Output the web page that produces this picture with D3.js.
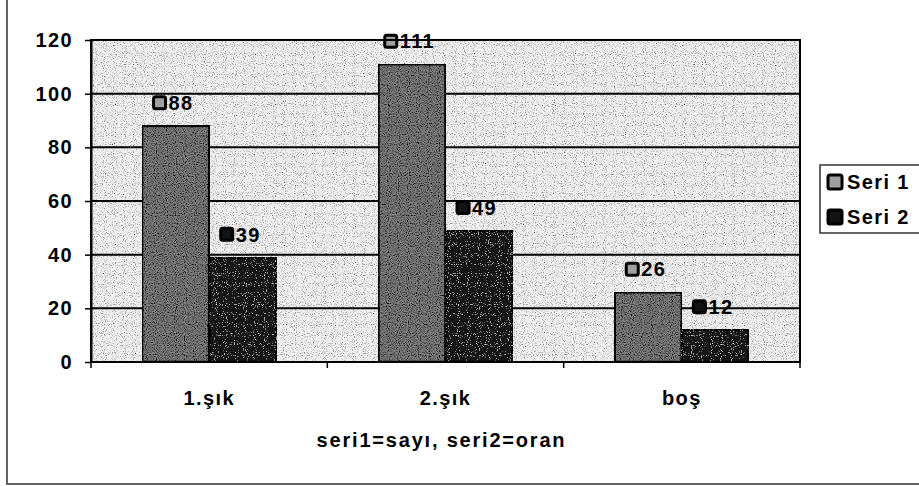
<!DOCTYPE html>
<html>
<head>
<meta charset="utf-8">
<script src="https://cdn.jsdelivr.net/npm/d3@7"></script>
<style>
  body { margin: 0; background: #fff; }
  text { font-family: "Liberation Sans", Arial, sans-serif; font-weight: bold; fill: #000; letter-spacing: 1.4px; }
</style>
</head>
<body>
<div id="chart"></div>
<script>
const categories = ['1.şık', '2.şık', 'boş'];
const seriesNames = ['Seri 1', 'Seri 2'];
const seri1 = [88, 111, 26];
const seri2 = [39, 49, 12];
const yTicks = [0, 20, 40, 60, 80, 100, 120];
const xTitle = 'seri1=sayı, seri2=oran';

const W = 919, H = 486;
const plot = { left: 91, top: 40, right: 800, bottom: 362 };
const colors = ['#858585', '#131313'];
const fontSize = 20;

const svg = d3.select('#chart').append('svg')
    .attr('width', W)
    .attr('height', H);

// speckle filters to imitate the scanned texture
const defs = svg.append('defs');
function speckle(id, freq, alphaMul, alphaAdd, rgb, seed) {
    const f = defs.append('filter').attr('id', id)
        .attr('x', 0).attr('y', 0).attr('width', 1).attr('height', 1);
    f.append('feTurbulence').attr('type', 'fractalNoise')
        .attr('baseFrequency', freq).attr('numOctaves', 1).attr('seed', seed).attr('result', 'noise');
    f.append('feColorMatrix').attr('in', 'noise').attr('type', 'matrix')
        .attr('values', `0 0 0 0 ${rgb}  0 0 0 0 ${rgb}  0 0 0 0 ${rgb}  0 0 0 ${alphaMul} ${alphaAdd}`)
        .attr('result', 'dots');
    f.append('feComposite').attr('in', 'dots').attr('in2', 'SourceGraphic').attr('operator', 'in').attr('result', 'dotsIn');
    f.append('feMerge').call(m => {
        m.append('feMergeNode').attr('in', 'SourceGraphic');
        m.append('feMergeNode').attr('in', 'dotsIn');
    });
}
speckle('bgGrain', 0.9, -3, 1.45, 0, 3);
speckle('darkGrain', 0.9, -3, 1.85, 0, 5);
speckle('lightGrain', 0.9, -4, 1.55, 1, 7);

// outer chart frame (left and bottom edges visible)
svg.append('path')
    .attr('d', `M7,0 V484 H${W}`)
    .attr('fill', 'none')
    .attr('stroke', '#333')
    .attr('stroke-width', 1.5);

const x = d3.scaleBand()
    .domain(categories)
    .range([plot.left, plot.right])
    .padding(0);

const xInner = d3.scaleBand()
    .domain(seriesNames)
    .range([0, x.bandwidth()])
    .paddingInner(0)
    .paddingOuter(0.76);

const y = d3.scaleLinear()
    .domain([0, 120])
    .range([plot.bottom, plot.top]);

// plot background
svg.append('rect')
    .attr('x', plot.left).attr('y', plot.top)
    .attr('width', plot.right - plot.left)
    .attr('height', plot.bottom - plot.top)
    .attr('fill', '#f0f0f0')
    .attr('filter', 'url(#bgGrain)');

// gridlines
svg.append('g')
    .selectAll('line')
    .data(yTicks.filter(d => d > 0))
    .join('line')
    .attr('x1', plot.left).attr('x2', plot.right)
    .attr('y1', d => y(d)).attr('y2', d => y(d))
    .attr('stroke', '#000')
    .attr('stroke-width', 2);

// bars
const rows = categories.map((c, i) => ({ cat: c, values: [seri1[i], seri2[i]] }));
const groups = svg.append('g')
    .selectAll('g')
    .data(rows)
    .join('g')
    .attr('transform', d => `translate(${x(d.cat)},0)`);

groups.selectAll('rect')
    .data(d => d.values.map((v, k) => ({ name: seriesNames[k], k: k, value: v })))
    .join('rect')
    .attr('x', d => xInner(d.name))
    .attr('y', d => y(d.value))
    .attr('width', xInner.bandwidth())
    .attr('height', d => y(0) - y(d.value))
    .attr('fill', d => colors[d.k])
    .attr('stroke', '#000')
    .attr('stroke-width', 2.5)
    .attr('filter', d => d.k === 0 ? 'url(#darkGrain)' : 'url(#lightGrain)');

// data labels: key square + value
const labels = groups.selectAll('g.lbl')
    .data(d => d.values.map((v, k) => ({ name: seriesNames[k], k: k, value: v })))
    .join('g')
    .attr('class', 'lbl')
    .attr('transform', d => `translate(${xInner(d.name) + xInner.bandwidth() / 2},${y(d.value) - 23})`);

labels.each(function (d) {
    const g = d3.select(this);
    const t = g.append('text')
        .attr('font-size', fontSize)
        .attr('dy', '0.36em')
        .text(d.value);
    const tw = t.node().getComputedTextLength();
    const key = 12, gap = 3;
    const total = key + gap + tw;
    const x0 = -total / 2 - 2;
    g.insert('rect', 'text')
        .attr('x', x0).attr('y', -key / 2)
        .attr('width', key).attr('height', key)
        .attr('rx', 2)
        .attr('fill', d.k === 0 ? '#a0a0a0' : colors[1])
        .attr('stroke', '#000')
        .attr('stroke-width', 3);
    t.attr('x', x0 + key + gap);
});

// plot border
svg.append('rect')
    .attr('x', plot.left).attr('y', plot.top)
    .attr('width', plot.right - plot.left)
    .attr('height', plot.bottom - plot.top)
    .attr('fill', 'none')
    .attr('stroke', '#000')
    .attr('stroke-width', 2);

// y axis
const yAxis = svg.append('g')
    .attr('transform', `translate(${plot.left},0)`)
    .call(d3.axisLeft(y).tickValues(yTicks).tickSize(6).tickSizeOuter(0).tickPadding(12));
yAxis.select('.domain').attr('stroke', '#000').attr('stroke-width', 2);
yAxis.selectAll('.tick line').attr('stroke', '#000').attr('stroke-width', 1.5);
yAxis.selectAll('.tick text')
    .attr('font-size', fontSize)
    .attr('font-family', '"Liberation Sans", Arial, sans-serif')
    .attr('font-weight', 'bold')
    .attr('fill', '#000');

// x axis: ticks at category boundaries, labels centred
const xAxis = svg.append('g').attr('transform', `translate(0,${plot.bottom})`);
xAxis.append('line')
    .attr('x1', plot.left).attr('x2', plot.right)
    .attr('stroke', '#000').attr('stroke-width', 2);
xAxis.selectAll('line.tk')
    .data(categories.map(c => x(c)).concat([plot.right]))
    .join('line')
    .attr('class', 'tk')
    .attr('x1', d => d).attr('x2', d => d)
    .attr('y1', 0).attr('y2', 6)
    .attr('stroke', '#000').attr('stroke-width', 1.5);
xAxis.selectAll('text')
    .data(categories)
    .join('text')
    .attr('x', d => x(d) + x.bandwidth() / 2)
    .attr('y', 36)
    .attr('dy', '0.36em')
    .attr('text-anchor', 'middle')
    .attr('font-size', fontSize)
    .text(d => d);

// axis title
svg.append('text')
    .attr('x', (plot.left + plot.right) / 2 - 4)
    .attr('y', 440)
    .attr('dy', '0.36em')
    .attr('text-anchor', 'middle')
    .attr('font-size', 20)
    .style('letter-spacing', '1.8px')
    .text(xTitle);

// legend
const legend = svg.append('g').attr('transform', 'translate(820,165)');
legend.append('rect')
    .attr('x', 0).attr('y', 0)
    .attr('width', 110).attr('height', 68)
    .attr('fill', '#fff')
    .attr('stroke', '#333')
    .attr('stroke-width', 1.5);
const items = legend.selectAll('g.item')
    .data(seriesNames)
    .join('g')
    .attr('class', 'item')
    .attr('transform', (d, i) => `translate(8,${17 + i * 35})`);
items.append('rect')
    .attr('x', 0).attr('y', -7)
    .attr('width', 14).attr('height', 14)
    .attr('rx', 2)
    .attr('fill', (d, i) => i === 0 ? '#a0a0a0' : colors[1])
    .attr('stroke', '#000')
    .attr('stroke-width', 3);
items.append('text')
    .attr('x', 19)
    .attr('dy', '0.36em')
    .attr('font-size', fontSize)
    .text(d => d);
</script>
</body>
</html>
